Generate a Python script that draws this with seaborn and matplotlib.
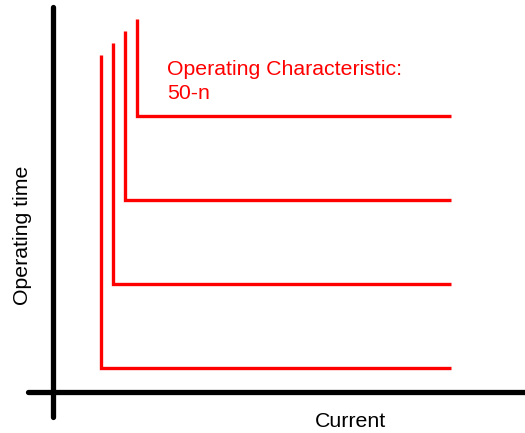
import matplotlib
matplotlib.use("Agg")
import matplotlib.pyplot as plt
import seaborn as sns
import pandas as pd

# --- data (arbitrary current / time units) ---
curve_names = ["c1", "c2", "c3", "c4"]
pickup_current = [4.0, 5.0, 6.0, 7.0]        # vertical branch position
operating_time = [2.0, 9.0, 16.0, 23.0]      # definite-time level
curve_top = [28.08, 29.08, 30.08, 31.08]     # top of vertical branch
max_current = 33.17                          # end of horizontal branch
label_title = "Operating Characteristic:\n50-n"
x_label = "Current"
y_label = "Operating time"

rows = []
for name, ip, t, top in zip(curve_names, pickup_current, operating_time, curve_top):
    rows += [
        {"curve": name, "order": 0, "I": ip, "t": top},
        {"curve": name, "order": 1, "I": ip, "t": t},
        {"curve": name, "order": 2, "I": max_current, "t": t},
    ]
df = pd.DataFrame(rows)

sns.set_theme(style="white")
plt.rcParams["font.family"] = ["Liberation Sans", "DejaVu Sans"]

W, H, DPI = 525, 433, 100
fig = plt.figure(figsize=(W / DPI, H / DPI), dpi=DPI)
ax = fig.add_axes([0, 0, 1, 1])
ax.set_axis_off()

unit = 12.0  # px per data unit
ox, oy = 53, 392  # origin in pixels
ax.set_xlim(-ox / unit, (W - ox) / unit)
ax.set_ylim(-(H - oy) / unit, oy / unit)

# black axes (crossing)
ax.plot([-25 / unit, (W - ox) / unit + 1], [0, 0], color="black", lw=3.8,
        solid_capstyle="round")
ax.plot([0, 0], [-25 / unit, (oy - 7) / unit], color="black", lw=3.8,
        solid_capstyle="round")

sns.lineplot(data=df, x="I", y="t", units="curve", estimator=None, sort=False,
             color="red", lw=2.4, ax=ax)
for ln in ax.lines[2:]:
    ln.set_solid_joinstyle("miter")
    ln.set_solid_capstyle("butt")

fs = 15.3
ax.text((167 - ox) / unit, (oy - 99) / unit, label_title, color="red",
        fontsize=fs, ha="left", va="baseline", linespacing=1.3)
ax.text((350 - ox) / unit, (oy - 427) / unit, x_label, color="black",
        fontsize=fs, ha="center", va="baseline")
ax.text((22 - ox) / unit, (oy - 235) / unit, y_label, color="black",
        fontsize=fs, ha="center", va="center", rotation=90)

fig.savefig("out.png", dpi=DPI)
